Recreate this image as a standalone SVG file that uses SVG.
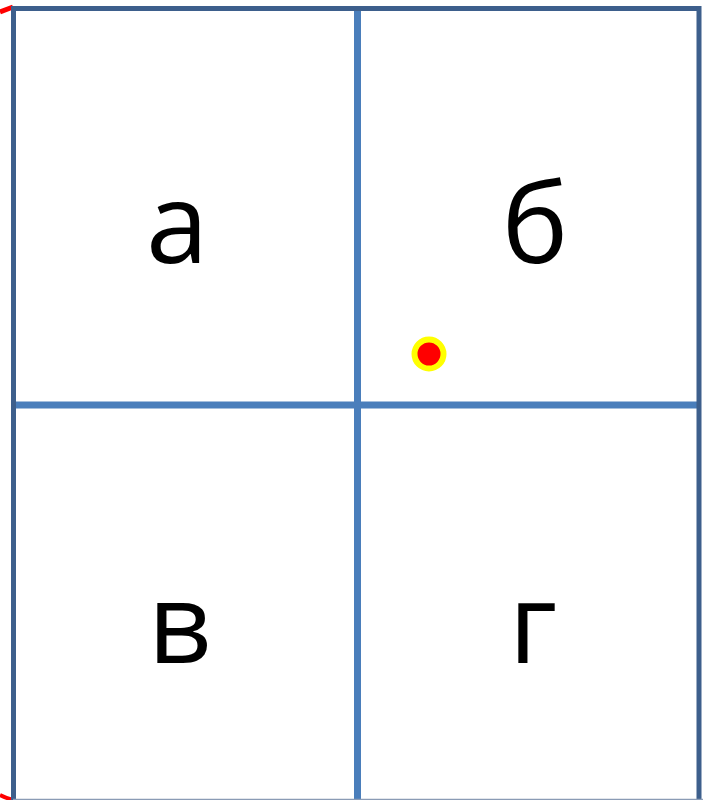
<svg xmlns="http://www.w3.org/2000/svg" width="703" height="800" viewBox="0 0 703 800">
<style>
.outer{stroke:#3d5f8c;stroke-width:5;fill:none}
.inner{stroke:#4a7ebb;stroke-width:7;fill:none}
.lbl{font-family:"Open Sans","Liberation Sans",sans-serif;font-size:112px;fill:#000;text-anchor:middle}
</style>
<rect width="703" height="800" fill="#fff"/>
<g id="connectors">
<path d="M0 12 L13 7" stroke="#ff0000" stroke-width="5" fill="none"/>
<path d="M0 795 Q6 798 13 800" stroke="#ff0000" stroke-width="4" fill="none"/>
<line class="inner" x1="357.5" y1="9" x2="357.5" y2="800"/>
<line class="inner" x1="14" y1="405" x2="699" y2="405"/>
<line class="outer" x1="11" y1="8.5" x2="701" y2="8.5"/>
<line class="outer" x1="13.5" y1="6" x2="13.5" y2="800"/>
<line class="outer" x1="699" y1="6" x2="699" y2="800"/>
<line x1="13" y1="799.5" x2="703" y2="799.5" stroke="#8a9bb5" stroke-width="1.5"/>
</g>
<g id="cell-a"><text class="lbl" x="177" y="263">а</text></g>
<g id="cell-b"><text class="lbl" x="535" y="263">б</text></g>
<g id="cell-v"><text class="lbl" x="180" y="663">в</text></g>
<g id="cell-g"><text class="lbl" x="533" y="663">г</text></g>
<g id="dot"><circle cx="429" cy="354" r="14.5" fill="#ff0000" stroke="#ffff00" stroke-width="6"/></g>
</svg>
